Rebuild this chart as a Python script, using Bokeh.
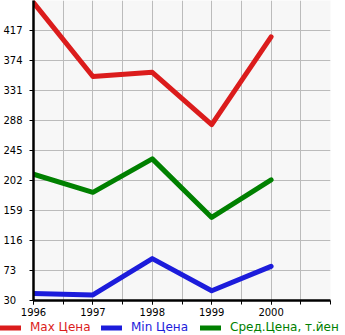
from bokeh.plotting import figure
from bokeh.models import FixedTicker, Legend, LegendItem, Range1d
from bokeh.layouts import column
from bokeh.embed import file_html
from bokeh.resources import INLINE

years = [1996, 1997, 1998, 1999, 2000]
max_price = [457, 351, 357, 282, 408]
min_price = [40, 38, 90, 44, 79]
avg_price = [211, 185, 233, 149, 203]
y_ticks = [30, 73, 116, 159, 202, 245, 288, 331, 374, 417]
series_names = ["Max Цена", "Min Цена", "Сред.Цена, т.йен"]
colors = ["#db1c1c", "#1c1cdb", "#008000"]
legend_x = [0, 101, 200]

p = figure(width=345, height=320, output_backend="svg", toolbar_location=None,
           x_range=Range1d(1996, 2001), y_range=Range1d(30, 460),
           min_border_left=31, min_border_right=15, min_border_top=0,
           min_border_bottom=20)
p.outline_line_color = None
p.background_fill_color = "#f7f7f7"
p.border_fill_color = "white"
p.frame_align = False

half = [1996 + 0.5 * i for i in range(11)]
p.xaxis.ticker = FixedTicker(ticks=years, minor_ticks=half)
p.xgrid.ticker = FixedTicker(ticks=half)
p.yaxis.ticker = FixedTicker(ticks=y_ticks)
p.ygrid.ticker = FixedTicker(ticks=y_ticks + [460])
for g in (p.xgrid, p.ygrid):
    g.grid_line_color = "#bbbbbb"
    g.grid_line_width = 1

for ax in (p.xaxis, p.yaxis):
    ax.axis_line_width = 2.5
    ax.axis_line_color = "black"
    ax.major_tick_out = 4
    ax.major_tick_in = 0
    ax.major_tick_line_color = "black"
    ax.major_label_text_font = "DejaVu Sans"
    ax.major_label_text_font_size = "10px"
    ax.major_label_text_color = "black"

p.xaxis.minor_tick_out = 4
p.xaxis.minor_tick_in = 0
p.xaxis.minor_tick_line_color = "black"
p.xaxis.major_label_standoff = 3

p.yaxis.minor_tick_line_color = None
p.yaxis.major_label_standoff = 7
p.yaxis.major_label_text_baseline = "alphabetic"
p.yaxis.major_label_overrides = {v: (str(v) + "\u2007" * (3 - len(str(v)))) for v in y_ticks}

for vals, c in zip([max_price, min_price, avg_price], colors):
    p.line(years, vals, line_color=c, line_width=5, line_cap="round", line_join="round")

# legend strip
q = figure(width=345, height=15, output_backend="svg", toolbar_location=None,
           x_range=Range1d(0, 345), y_range=Range1d(0, 15),
           x_axis_type=None, y_axis_type=None,
           min_border_left=0, min_border_right=0, min_border_top=0, min_border_bottom=0)
q.outline_line_color = None
q.background_fill_color = "white"
q.border_fill_color = "white"
q.xgrid.visible = False
q.ygrid.visible = False
q.frame_align = False

for n, c, lx in zip(series_names, colors, legend_x):
    r = q.line([-100, -90], [-100, -100], line_color=c, line_width=5, line_cap="round")
    lg = Legend(items=[LegendItem(label=n, renderers=[r])], location=(lx, 1),
                background_fill_alpha=0, border_line_color=None,
                label_text_font="DejaVu Sans", label_text_font_size="12px",
                label_text_color=c, label_height=13, glyph_height=13,
                glyph_width=21, label_standoff=9, padding=0, margin=0)
    q.add_layout(lg, "center")

layout = column(p, q, spacing=0)
open("out.html", "w").write(file_html(layout, INLINE))
